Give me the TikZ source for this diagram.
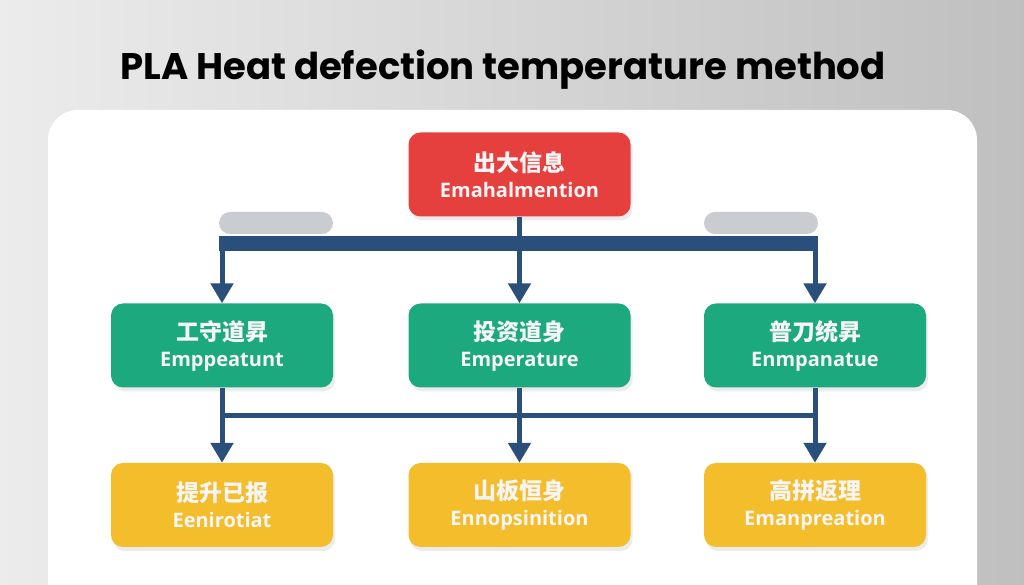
\documentclass[tikz,border=0pt]{standalone}
\usepackage{fontspec}
\setmainfont{Poppins}
\newfontfamily\cjk{Noto Sans CJK SC}
\newfontfamily\latin{Open Sans}
\usetikzlibrary{arrows.meta,shadows}
\definecolor{boxred}{HTML}{E5403E}
\definecolor{boxgreen}{HTML}{1CA97E}
\definecolor{boxyellow}{HTML}{F4BD2B}
\definecolor{linkblue}{HTML}{2A4F7B}
\definecolor{bargrey}{HTML}{C9CCD1}
\newcommand\twoline[2]{{\cjk\fontsize{23}{26}\selectfont #1}\\{\latin\fontsize{20}{26}\selectfont #2}}
\tikzset{
  box/.style={rounded corners=12pt, minimum width=222pt, minimum height=84pt,
    align=center, text=white!96!black, inner sep=0pt, font=\bfseries\fontsize{20}{26}\selectfont,
    drop shadow={opacity=0.15, shadow xshift=2pt, shadow yshift=-4pt}},
  greybar/.style={fill=bargrey, rounded corners=11pt, minimum width=114pt, minimum height=22pt},
  link/.style={linkblue, line width=5pt},
  arrow/.style={link, -{Triangle[width=22pt,length=20pt]}}
}
\begin{document}
\begin{tikzpicture}[x=1pt,y=1pt]
  \useasboundingbox (0,0) rectangle (1024,585);
  \clip (0,0) rectangle (1024,585);
  \shade[left color=white!85!gray, right color=gray!50!white] (0,0) rectangle (1024,585);
  \fill[white, rounded corners=30pt] (48,-40) rectangle (977,475);
  \node[font=\bfseries\fontsize{37}{42}\selectfont] (title) at (503,515)
    {PLA Heat defection temperature method};
  \node[box, fill=boxred] (top) at (519.5,410.5) {\twoline{出大信息}{Emahalmention}};
  \node[greybar] (tagL) at (276,362) {};
  \node[greybar] (tagR) at (761,362) {};
  \node[box, fill=boxgreen] (g1) at (222,239.5) {\twoline{工守道昇}{Emppeatunt}};
  \node[box, fill=boxgreen] (g2) at (519.5,239.5) {\twoline{投资道身}{Emperature}};
  \node[box, fill=boxgreen] (g3) at (815,239.5) {\twoline{普刀统昇}{Enmpanatue}};
  \node[box, fill=boxyellow] (y1) at (222,80) {\twoline{提升已报}{Eenirotiat}};
  \node[box, fill=boxyellow] (y2) at (519.5,80) {\twoline{山板恒身}{Ennopsinition}};
  \node[box, fill=boxyellow] (y3) at (815,80) {\twoline{高拼返理}{Emanpreation}};
  \coordinate (barL) at (219,341);
  \coordinate (barR) at (818,341);
  \coordinate (mid) at (0,169);
  % first level
  \draw[link] (top.south) -- (top.south |- barL);
  \draw[linkblue, line width=15pt] (barL) -- (barR);
  \draw[arrow] (g1.north |- barL) -- (g1.north);
  \draw[arrow] (g2.north |- barL) -- (g2.north);
  \draw[arrow] (g3.north |- barL) -- (g3.north);
  % second level
  \draw[link] (g1.south |- mid) -- (g3.south |- mid);
  \draw[arrow] (g1.south) -- (y1.north);
  \draw[arrow] (g2.south) -- (y2.north);
  \draw[arrow] (g3.south) -- (y3.north);
\end{tikzpicture}
\end{document}
